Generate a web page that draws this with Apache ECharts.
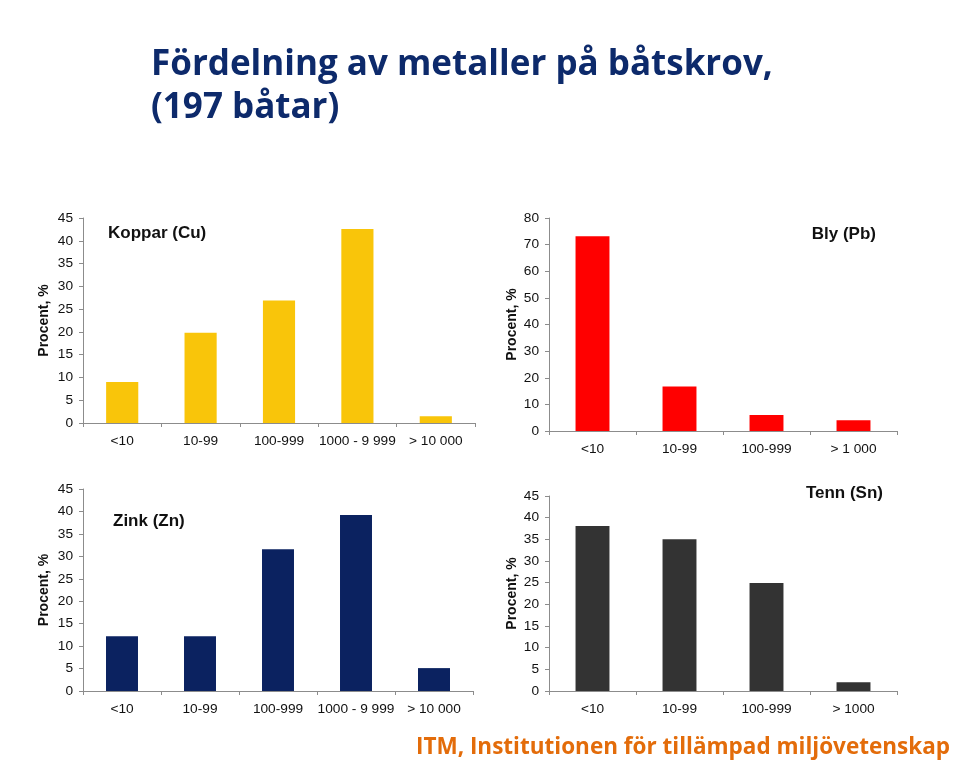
<!DOCTYPE html>
<html>
<head>
<meta charset="utf-8">
<script src="https://cdn.jsdelivr.net/npm/echarts@6/dist/echarts.min.js"></script>
<style>
  html, body { margin: 0; padding: 0; background: #fff; }
  #chart { width: 960px; height: 760px; }
</style>
</head>
<body>
<div id="chart"></div>
<script>
// kategorier
const catsLong = ['<10', '10-99', '100-999', '1000 - 9 999', '> 10 000']
const catsPb = ['<10', '10-99', '100-999', '> 1 000']
const catsSn = ['<10', '10-99', '100-999', '> 1000']

// procent av båtarna
const koppar = [9.0, 19.8, 26.9, 42.6, 1.5]
const bly = [73.1, 16.7, 6.0, 4.0]
const zink = [12.2, 12.2, 31.6, 39.2, 5.1]
const tenn = [38.1, 35.0, 24.9, 2.0]

const font = 'Liberation Sans, Arial, sans-serif'

// gemensam stil för axlarna
function xAxis (idx, cats) {
  return {
    type: 'category',
    gridIndex: idx,
    data: cats,
    axisLine: { lineStyle: { color: '#8c8c8c', width: 1 } },
    axisTick: { show: true, length: 4, lineStyle: { color: '#8c8c8c' } },
    axisLabel: { color: '#111', fontSize: 13.7, fontFamily: font, margin: 11, interval: 0, hideOverlap: false }
  }
}
function yAxis (idx, max, interval, gap) {
  return {
    type: 'value',
    gridIndex: idx,
    min: 0,
    max: max,
    interval: interval,
    name: 'Procent, %',
    nameLocation: 'middle',
    nameGap: gap,
    nameTextStyle: { color: '#111', fontSize: 14, fontWeight: 'bold', fontFamily: font },
    axisLine: { show: true, lineStyle: { color: '#8c8c8c', width: 1 } },
    axisTick: { show: true, length: 4, lineStyle: { color: '#8c8c8c' } },
    axisLabel: { color: '#111', fontSize: 13.7, fontFamily: font, margin: 10 },
    splitLine: { show: false }
  }
}

const chart = echarts.init(document.getElementById('chart'))
const option = {
  backgroundColor: '#fff',
  animation: false,
  title: [
    {
      text: 'Fördelning av metaller på båtskrov,\n(197 båtar)',
      left: 146,
      top: 39,
      textStyle: { color: '#0d2a6b', fontSize: 35, fontWeight: 'bold', fontFamily: 'Open Sans, sans-serif', lineHeight: 43 }
    },
    {
      text: 'ITM, Institutionen för tillämpad miljövetenskap',
      right: 5,
      top: 731,
      textStyle: { color: '#e36c0a', fontSize: 22.5, fontWeight: 'bold', fontFamily: 'Open Sans, sans-serif' }
    },
    { text: 'Koppar (Cu)', left: 103, top: 220, textStyle: { color: '#111', fontSize: 17, fontWeight: 'bold', fontFamily: font } },
    { text: 'Bly (Pb)', right: 79, top: 221, textStyle: { color: '#111', fontSize: 17, fontWeight: 'bold', fontFamily: font } },
    { text: 'Zink (Zn)', left: 108, top: 508, textStyle: { color: '#111', fontSize: 17, fontWeight: 'bold', fontFamily: font } },
    { text: 'Tenn (Sn)', right: 72, top: 480, textStyle: { color: '#111', fontSize: 17, fontWeight: 'bold', fontFamily: font } }
  ],
  grid: [
    { left: 83, top: 218, width: 392, height: 205 },
    { left: 549, top: 218, width: 348, height: 213 },
    { left: 83, top: 489, width: 390, height: 202 },
    { left: 549, top: 496, width: 348, height: 195 }
  ],
  xAxis: [xAxis(0, catsLong), xAxis(1, catsPb), xAxis(2, catsLong), xAxis(3, catsSn)],
  yAxis: [yAxis(0, 45, 5, 32), yAxis(1, 80, 10, 30), yAxis(2, 45, 5, 32), yAxis(3, 45, 5, 30)],
  series: [
    { type: 'bar', xAxisIndex: 0, yAxisIndex: 0, data: koppar, barWidth: '41%', itemStyle: { color: '#f9c50a' } },
    { type: 'bar', xAxisIndex: 1, yAxisIndex: 1, data: bly, barWidth: '39%', itemStyle: { color: '#ff0000' } },
    { type: 'bar', xAxisIndex: 2, yAxisIndex: 2, data: zink, barWidth: '41%', itemStyle: { color: '#0b2260' } },
    { type: 'bar', xAxisIndex: 3, yAxisIndex: 3, data: tenn, barWidth: '39%', itemStyle: { color: '#333333' } }
  ]
}
chart.setOption(option)
</script>
</body>
</html>
